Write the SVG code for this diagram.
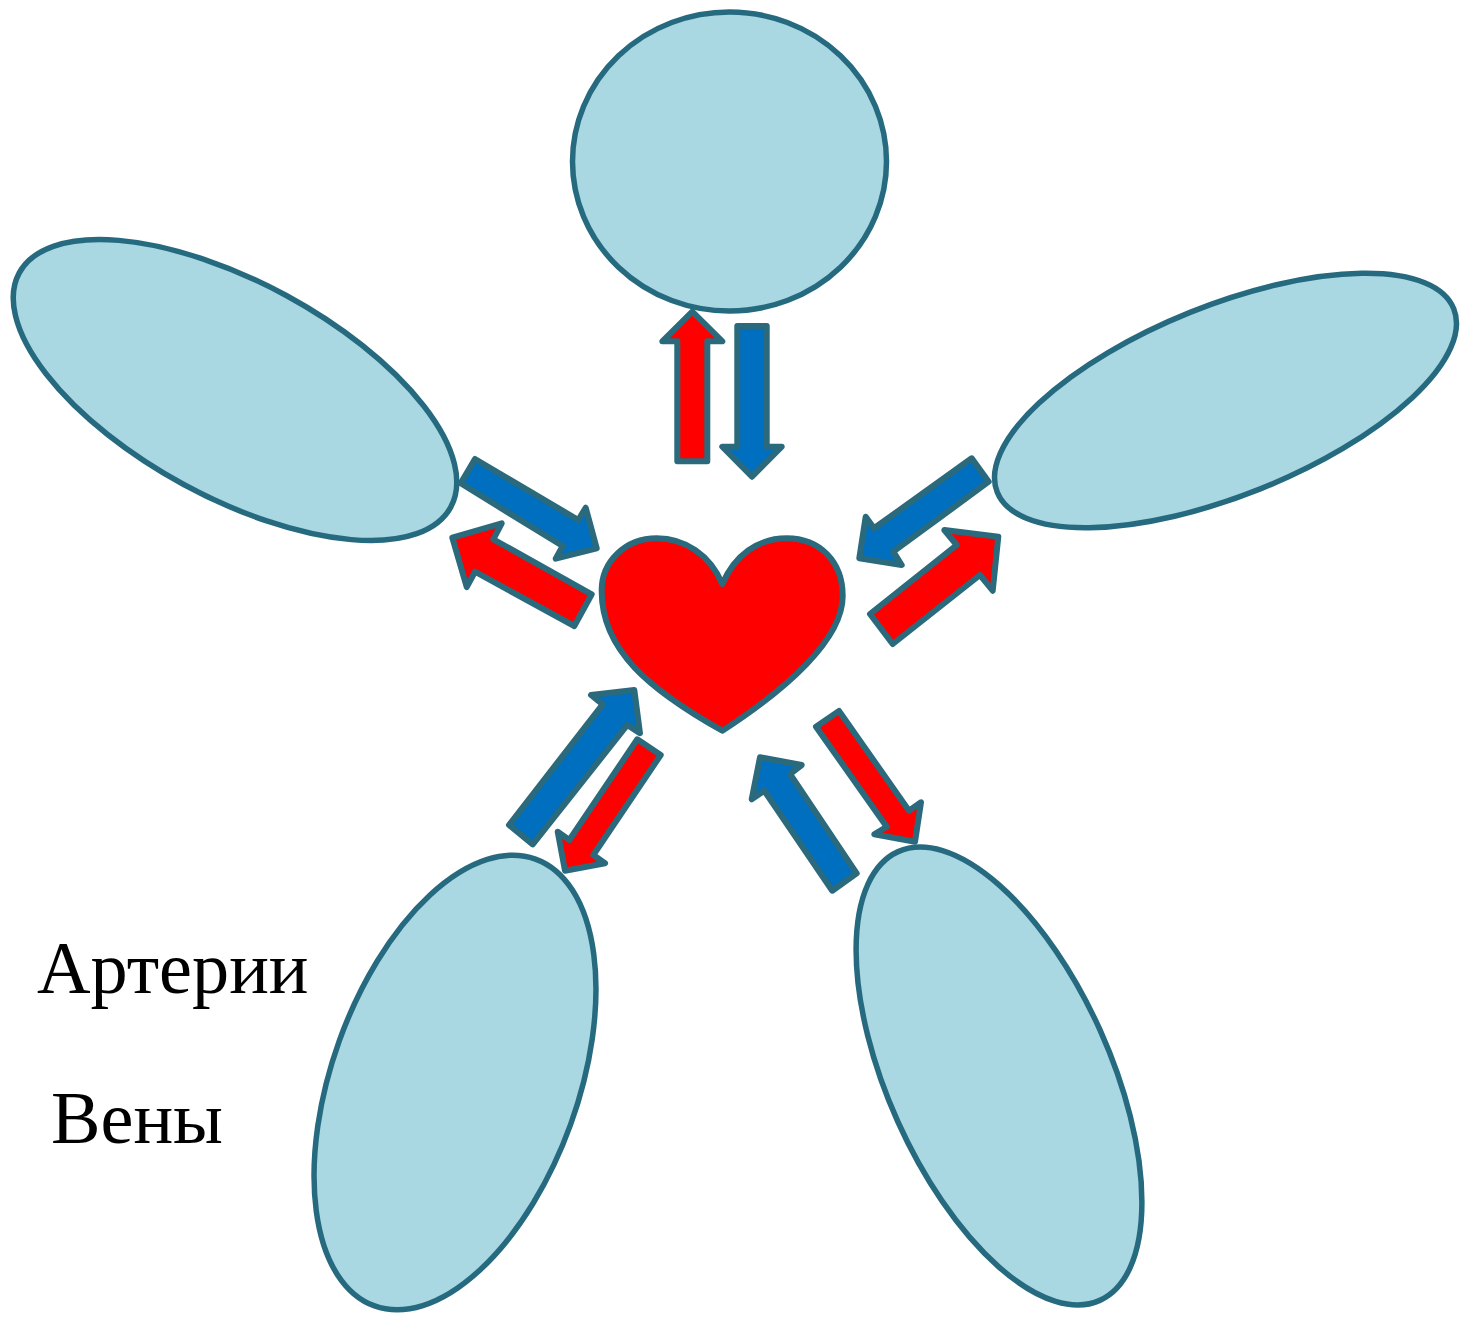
<svg xmlns="http://www.w3.org/2000/svg" width="1461" height="1317" viewBox="0 0 1461 1317">
<defs>
<style>
.organ{fill:#a9d7e2;stroke:#266a80;stroke-width:5.5}
.a{fill:#ff0000;stroke:#2a6a7c;stroke-width:6;stroke-linejoin:round}
.v{fill:#006fc0;stroke:#2a6a7c;stroke-width:6;stroke-linejoin:round}
.t{font-family:"Liberation Serif","Times New Roman",serif;font-size:74.2px;fill:#000}
</style>
</defs>
<rect width="1461" height="1317" fill="#fff"/>
<g id="node-top"><ellipse class="organ" cx="729.5" cy="161.5" rx="157" ry="149.5"/></g>
<g id="node-left"><ellipse class="organ" cx="235" cy="390" rx="245.5" ry="107.5" transform="rotate(28.5 235 390)"/></g>
<g id="node-right"><ellipse class="organ" cx="1225.5" cy="400.5" rx="246" ry="95" transform="rotate(-21.9 1225.5 400.5)"/></g>
<g id="node-bottom-left"><ellipse class="organ" cx="455" cy="1082.5" rx="123" ry="237.5" transform="rotate(19.8 455 1082.5)"/></g>
<g id="node-bottom-right"><ellipse class="organ" cx="999" cy="1076" rx="111" ry="246" transform="rotate(-24.2 999 1076)"/></g>
<g id="node-heart"><path class="a" d="M722.3 584C710 555 685 538.3 656.7 538.3C625 538.3 601.7 562 601.7 590C601 650 650 690 722.3 730.7C785 690 842.7 640 842.7 596C842.7 562 820 538.3 786.7 538.3C758 538.3 735 555 722.3 584Z"/></g>
<g id="connectors">
<polygon class="a" points="692.3,311.7 722.3,341.3 707.3,341.3 707.3,461.3 677.3,461.3 677.3,341.3 662.3,341.3"/>
<polygon class="v" points="737.3,326 766.7,326 766.7,446.7 781.7,446.7 752,476.7 722.3,446.7 737.3,446.7"/>
<polygon class="v" points="475,459 578.3,520 585.7,507.7 596.7,548.3 555.7,558.7 562.7,546 460.7,483.3"/>
<polygon class="a" points="591.7,594.3 574.3,626 475,571.7 466.7,587 452.3,537.7 501.7,523.3 493.3,539.3"/>
<polygon class="v" points="971.7,458.3 988.7,481.7 893.3,551.7 901.7,565 859.3,558.3 865.7,516.7 874,528.3"/>
<polygon class="a" points="870,614 892.7,644 980,575 992.7,590.7 998.3,536.7 944.3,530 956.7,545"/>
<polygon class="v" points="509,825 602.7,704.3 591,695 634.3,690 640,733.3 627.3,725 532.7,844.3"/>
<polygon class="a" points="637.3,739.3 660.7,755 593.3,855 605,863.3 565,870.7 557.7,831.7 569.3,840"/>
<polygon class="a" points="816,726.7 839,711 909,810.7 921,802.3 915,841.7 874.3,834.3 886.7,826.7"/>
<polygon class="v" points="856.7,873.3 832.3,890.7 764.3,790.7 751.7,799.3 760,757.3 801.7,765 790,774"/>
</g>
<text class="t" x="37" y="993">Артерии</text>
<text class="t" x="51" y="1143">Вены</text>
</svg>
